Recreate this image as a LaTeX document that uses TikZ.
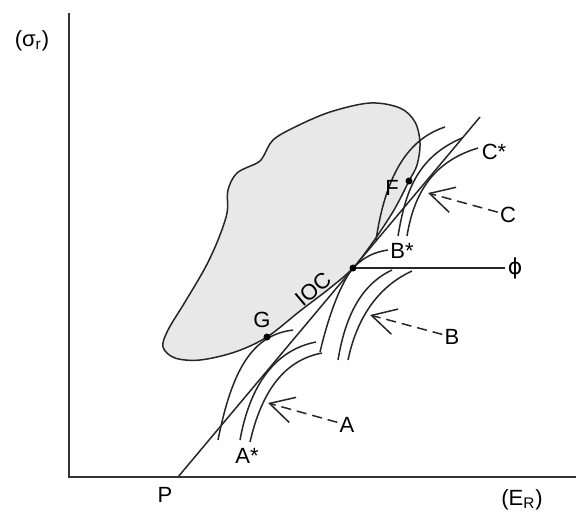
\documentclass[tikz,border=0pt]{standalone}
\usepackage{fontspec}
\setmainfont{Liberation Sans}
\newfontfamily\phifont{DejaVu Sans}
\usepackage{tikz}
\usetikzlibrary{arrows.meta, positioning}

\tikzset{
  curve/.style={line width=0.75pt, black!85},
  axis/.style={line width=1.3pt, black!80},
  dot/.style={circle, fill=black, inner sep=0pt, minimum size=3.5pt},
  lbl/.style={font=\fontsize{11}{13}\selectfont, inner sep=1pt},
  dasharrow/.style={line width=0.75pt, black!85, dash pattern=on 5pt off 3pt,
    -{Straight Barb[length=12pt, width=13pt]}},
}

\begin{document}
\begin{tikzpicture}[x=0.5pt, y=-0.5pt]
        \useasboundingbox (0,0) rectangle (576,515);

        % axes
        \coordinate (O) at (69,477);
        \coordinate (ytop) at (69,13);
        \coordinate (xend) at (576,477);
        \draw[axis] (ytop) -- (O) -- (xend);
        \node[lbl] (sig) at (32,41) {(σ\textsubscript{r})};
        \node[lbl] (ER) at (522,500) {(E\textsubscript{R})};

        % opportunity set
        \coordinate (M) at (353,268);
        \coordinate (G) at (267,337);
        \coordinate (F) at (409,181);
        \filldraw[curve, fill=black!9] plot[smooth cycle, tension=0.55] coordinates {
            (353,268) (330,288) (300,311) (267,337) (235,352) (200,360)
            (175,358) (163,347) (168,330) (185,302) (205,268) (218,240)
            (227,213) (228,190) (237,173) (257,163) (263,157) (273,140)
            (295,127) (330,112) (370,103) (400,108) (415,122) (420,143)
            (417,165) (409,181) (394,210) (373,242)};

        % line from P
        \coordinate (P) at (178,477);
        \coordinate (Ptop) at (480,117);
        \draw[curve] (P) -- (Ptop);
        \node[lbl] (Plab) at (165,495) {P};

        % curves A
        \draw[curve] (218,440) .. controls (232,370) and (252,335) .. (293,330);
        \draw[curve] (240,440) .. controls (250,385) and (275,350) .. (316,342);
        \draw[curve] (250,442) .. controls (262,390) and (285,360) .. (322,353);

        % curves B
        \draw[curve] (320,352) .. controls (328,318) and (340,284) .. (M)
            .. controls (365,256) and (375,252) .. (388,250);
        \draw[curve] (338,360) .. controls (345,318) and (360,285) .. (392,270);
        \draw[curve] (348,360) .. controls (356,322) and (375,288) .. (412,271);

        % curves C
        \draw[curve] (376,240) .. controls (385,180) and (405,140) .. (445,127);
        \draw[curve] (398,236) .. controls (405,195) and (415,158) .. (462,138);
        \draw[curve] (407,236) .. controls (413,200) and (428,163) .. (478,148);

        % phi line
        \node[lbl] (phi) at (515,268) {\phifont ϕ};
        \draw[curve] (M) -- (phi.west);

        % points
        \foreach \p in {M, G, F}
            \node[dot] (\p dot) at (\p) {};
        \node[lbl] (Glab) at (262,320) {G};
        \node[lbl] (Flab) at (392,188) {F};
        \node[lbl, rotate=40] (ioc) at (313,289) {IOC};

        % labels
        \node[lbl] (Astar) at (247,456) {A*};
        \node[lbl] (Bstar) at (402,251) {B*};
        \node[lbl] (Cstar) at (494,152) {C*};
        \node[lbl] (Alab) at (347,425) {A};
        \node[lbl] (Blab) at (452,337) {B};
        \node[lbl] (Clab) at (508,215) {C};
        \coordinate (Atip) at (268,403);
        \coordinate (Btip) at (370,315);
        \coordinate (Ctip) at (428,193);
        \foreach \l in {A, B, C}
            \draw[dasharrow] (\l lab) -- (\l tip);

\end{tikzpicture}
\end{document}
